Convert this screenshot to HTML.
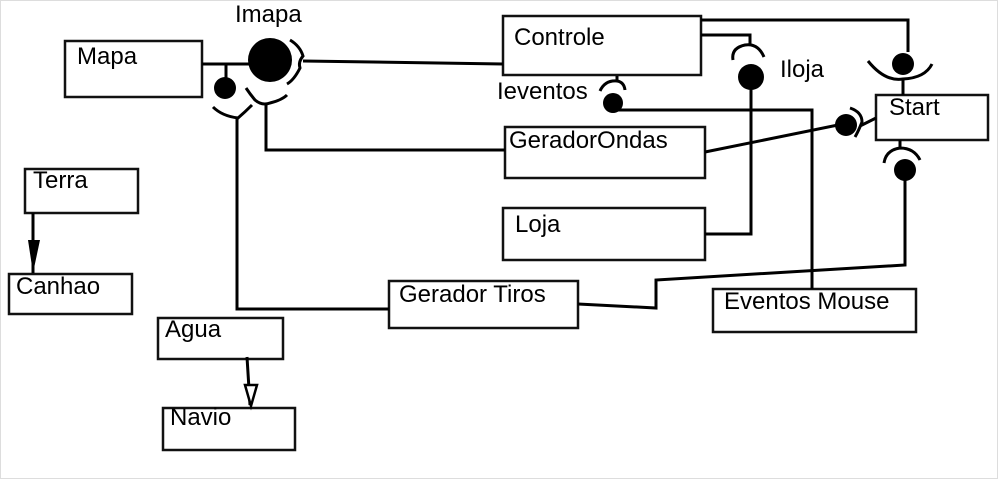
<!DOCTYPE html>
<html><head><meta charset="utf-8"><style>
html,body{margin:0;padding:0;background:#fff;}
svg{display:block;}
text{font-family:"Liberation Sans",sans-serif;font-size:24px;fill:#000;}
</style></head><body>
<svg width="998" height="479" viewBox="0 0 998 479" xmlns="http://www.w3.org/2000/svg">
<rect x="0" y="0" width="998" height="479" fill="#fff"/>
<rect x="0.5" y="0.5" width="997" height="478" fill="none" stroke="#ddd" stroke-width="1"/>
<g fill="none" stroke="#111" stroke-width="2.5">
<rect x="65" y="41" width="137" height="56"/>
<rect x="503" y="16" width="198" height="59"/>
<rect x="505" y="127" width="200" height="51"/>
<rect x="503" y="208" width="202" height="52"/>
<rect x="389" y="281" width="189" height="47"/>
<rect x="713" y="289" width="203" height="43"/>
<rect x="876" y="95" width="112" height="45"/>
<rect x="25" y="169" width="113" height="44"/>
<rect x="9" y="274" width="123" height="40"/>
<rect x="158" y="318" width="125" height="41"/>
<rect x="163" y="408" width="132" height="42"/>
</g>
<g fill="none" stroke="#000" stroke-width="3">
<path d="M202 64 H250"/>
<path d="M226 64 V78"/>
<path d="M303 61 L503 64"/>
<path d="M290 40 Q300 46 303 56 Q298 62 300 68 Q294 80 287 84"/>
<path d="M246 88 Q250 94 255 100 Q262 106 270 103 Q282 100 287 95"/>
<path d="M266 104 V150 H505"/>
<path d="M213 107 Q222 116 238 118 Q245 112 252 105"/>
<path d="M237 118 V309 H389"/>
<path d="M701 35 H750 V45"/>
<path d="M733 60 Q731 48 745 45 Q758 43 764 57"/>
<path d="M751 88 V234 H705"/>
<path d="M701 20 H908 V52"/>
<path d="M868 61 Q885 82 903 79 Q925 78 932 64"/>
<path d="M903 79 V95"/>
<path d="M600 91 Q605 80 617 81 Q624 82 625 90"/>
<path d="M617 81 V76"/>
<path d="M615 110 H812 V289"/>
<path d="M705 152 L838 125"/>
<path d="M850 108 Q862 112 862 122 Q858 132 855 137"/>
<path d="M860 126 L876 118"/>
<path d="M900 140 V148"/>
<path d="M884 163 Q886 150 900 148 Q914 148 920 160"/>
<path d="M905 178 V265 L656 280 V308 L578 304"/>
<path d="M33 213 V273"/>
<path d="M247 357 L250 405"/>
</g>
<circle cx="270" cy="60" r="22" fill="#000"/>
<circle cx="225" cy="88" r="11" fill="#000"/>
<circle cx="751" cy="77" r="13" fill="#000"/>
<circle cx="903" cy="64" r="11" fill="#000"/>
<circle cx="613" cy="103" r="10" fill="#000"/>
<circle cx="846" cy="125" r="11" fill="#000"/>
<circle cx="905" cy="170" r="11" fill="#000"/>
<polygon points="28,240 40,240 33,273" fill="#000"/>
<polygon points="245,385 257,385 251,406" fill="#fff" stroke="#000" stroke-width="2.5"/>
<text x="235" y="22">Imapa</text>
<text x="77" y="64">Mapa</text>
<text x="514" y="45">Controle</text>
<text x="497" y="99">Ieventos</text>
<text x="780" y="77">Iloja</text>
<text x="889" y="115">Start</text>
<text x="509" y="148">GeradorOndas</text>
<text x="515" y="232">Loja</text>
<text x="399" y="302">Gerador Tiros</text>
<text x="724" y="309">Eventos Mouse</text>
<text x="33" y="188">Terra</text>
<text x="16" y="294">Canhao</text>
<text x="165" y="337">Agua</text>
<text x="170" y="425">Navio</text>
</svg>
</body></html>
